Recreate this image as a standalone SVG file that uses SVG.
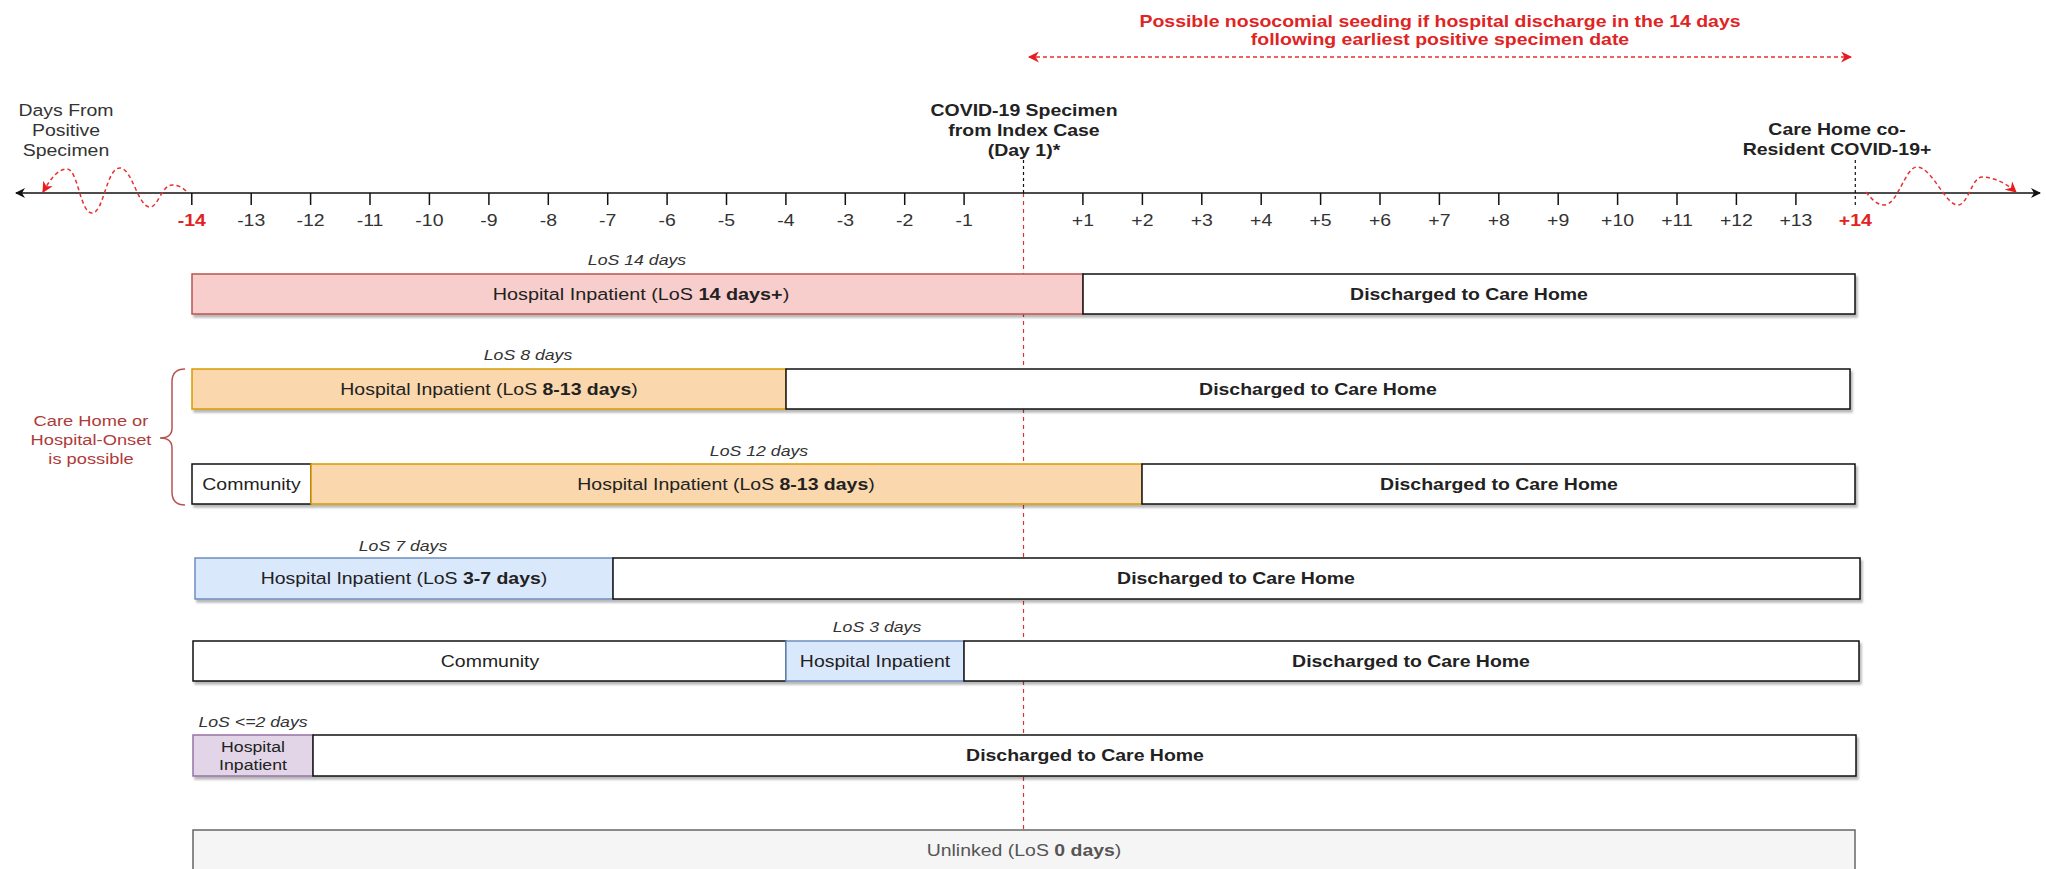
<svg xmlns="http://www.w3.org/2000/svg" width="2046" height="869" viewBox="0 0 2046 869">
<defs>
<style>
text{font-family:"Liberation Sans",Arial,sans-serif;font-size:16.5px;fill:#222;text-anchor:middle}
.b{font-weight:bold}
.lab{font-style:italic;font-size:15px;fill:#333}
.red{fill:#e02424;font-weight:bold}
.dred{fill:#b03a3a;font-size:15.5px}
.ax{fill:#333}
.pink{fill:#f8cecc;stroke:#b85450;stroke-width:1.5}
.org{fill:#fad7ac;stroke:#d79b00;stroke-width:1.5}
.blue{fill:#dae8fc;stroke:#6c8ebf;stroke-width:1.5}
.purp{fill:#e1d5e7;stroke:#9673a6;stroke-width:1.5}
.wht{fill:#fff;stroke:#111;stroke-width:1.5}
.gry{fill:#f5f5f5;stroke:#666;stroke-width:1.5}
.tick{stroke:#111;stroke-width:1.5}
.rdash{fill:none;stroke:#e83030;stroke-width:1.5;stroke-dasharray:4 3}
.kdash{fill:none;stroke:#111;stroke-width:1.2;stroke-dasharray:3 3}
</style>
<filter id="sh" x="-5%" y="-20%" width="110%" height="160%">
<feDropShadow dx="2" dy="3" stdDeviation="1" flood-color="#000" flood-opacity="0.28"/>
</filter>
<marker id="ak" viewBox="0 0 10 10" refX="9" refY="5" markerWidth="10" markerHeight="10" markerUnits="userSpaceOnUse" orient="auto-start-reverse">
<path d="M0,0 L10,5 L0,10 L3,5 Z" fill="#111"/>
</marker>
<marker id="ar" viewBox="0 0 10 10" refX="9" refY="5" markerWidth="11" markerHeight="11" markerUnits="userSpaceOnUse" orient="auto-start-reverse">
<path d="M0,0 L10,5 L0,10 L3,5 Z" fill="#e81c1c"/>
</marker>
</defs>
<rect width="2046" height="869" fill="#fff"/>

<g id="connectors">
<line x1="1023.5" y1="193" x2="1023.5" y2="830" stroke="#e03030" stroke-width="1.2" stroke-dasharray="4 4"/>
<line x1="16" y1="193" x2="2040" y2="193" stroke="#111" stroke-width="1.5" marker-start="url(#ak)" marker-end="url(#ak)"/>
<line x1="1023.5" y1="160" x2="1023.5" y2="193" class="kdash"/>
<line x1="1855.3" y1="160" x2="1855.3" y2="206" class="kdash"/>
<line x1="1029" y1="57" x2="1851" y2="57" class="rdash" marker-start="url(#ar)" marker-end="url(#ar)"/>
<path d="M186,191 C181,186 176,185 172,185 C162,185 158,207 150,207 C138,207 132,168 120,168 C106,168 104,213 92,213 C80,213 78,169 67,169 C57,169 50,180 43,192" class="rdash" marker-end="url(#ar)"/>
<path d="M1866,192 C1872,200 1878,205 1884,205 C1898,205 1905,167 1917,167 C1932,167 1945,205 1958,205 C1968,205 1972,177 1982,177 C1995,177 2008,185 2016,192" class="rdash" marker-end="url(#ar)"/>
<g id="ticks">
<line x1="191.8" y1="193" x2="191.8" y2="205" class="tick"/>
<line x1="251.2" y1="193" x2="251.2" y2="205" class="tick"/>
<line x1="310.6" y1="193" x2="310.6" y2="205" class="tick"/>
<line x1="370" y1="193" x2="370" y2="205" class="tick"/>
<line x1="429.4" y1="193" x2="429.4" y2="205" class="tick"/>
<line x1="488.9" y1="193" x2="488.9" y2="205" class="tick"/>
<line x1="548.3" y1="193" x2="548.3" y2="205" class="tick"/>
<line x1="607.7" y1="193" x2="607.7" y2="205" class="tick"/>
<line x1="667.1" y1="193" x2="667.1" y2="205" class="tick"/>
<line x1="726.5" y1="193" x2="726.5" y2="205" class="tick"/>
<line x1="785.9" y1="193" x2="785.9" y2="205" class="tick"/>
<line x1="845.3" y1="193" x2="845.3" y2="205" class="tick"/>
<line x1="904.7" y1="193" x2="904.7" y2="205" class="tick"/>
<line x1="964.1" y1="193" x2="964.1" y2="205" class="tick"/>
<line x1="1082.9" y1="193" x2="1082.9" y2="205" class="tick"/>
<line x1="1142.4" y1="193" x2="1142.4" y2="205" class="tick"/>
<line x1="1201.8" y1="193" x2="1201.8" y2="205" class="tick"/>
<line x1="1261.2" y1="193" x2="1261.2" y2="205" class="tick"/>
<line x1="1320.6" y1="193" x2="1320.6" y2="205" class="tick"/>
<line x1="1380" y1="193" x2="1380" y2="205" class="tick"/>
<line x1="1439.4" y1="193" x2="1439.4" y2="205" class="tick"/>
<line x1="1498.8" y1="193" x2="1498.8" y2="205" class="tick"/>
<line x1="1558.2" y1="193" x2="1558.2" y2="205" class="tick"/>
<line x1="1617.6" y1="193" x2="1617.6" y2="205" class="tick"/>
<line x1="1677" y1="193" x2="1677" y2="205" class="tick"/>
<line x1="1736.4" y1="193" x2="1736.4" y2="205" class="tick"/>
<line x1="1795.9" y1="193" x2="1795.9" y2="205" class="tick"/>
</g>
<path d="M185,369 Q172,369 172,382 L172,428 Q172,438 160,438 Q172,438 172,448 L172,492 Q172,505 185,505" fill="none" stroke="#b85450" stroke-width="1.5"/>
</g>

<g id="axis-labels">
<text transform="translate(191.8,226) scale(1.18,1)" class="red">-14</text>
<text transform="translate(251.2,226) scale(1.18,1)" class="ax">-13</text>
<text transform="translate(310.6,226) scale(1.18,1)" class="ax">-12</text>
<text transform="translate(370,226) scale(1.18,1)" class="ax">-11</text>
<text transform="translate(429.4,226) scale(1.18,1)" class="ax">-10</text>
<text transform="translate(488.9,226) scale(1.18,1)" class="ax">-9</text>
<text transform="translate(548.3,226) scale(1.18,1)" class="ax">-8</text>
<text transform="translate(607.7,226) scale(1.18,1)" class="ax">-7</text>
<text transform="translate(667.1,226) scale(1.18,1)" class="ax">-6</text>
<text transform="translate(726.5,226) scale(1.18,1)" class="ax">-5</text>
<text transform="translate(785.9,226) scale(1.18,1)" class="ax">-4</text>
<text transform="translate(845.3,226) scale(1.18,1)" class="ax">-3</text>
<text transform="translate(904.7,226) scale(1.18,1)" class="ax">-2</text>
<text transform="translate(964.1,226) scale(1.18,1)" class="ax">-1</text>
<text transform="translate(1082.9,226) scale(1.18,1)" class="ax">+1</text>
<text transform="translate(1142.4,226) scale(1.18,1)" class="ax">+2</text>
<text transform="translate(1201.8,226) scale(1.18,1)" class="ax">+3</text>
<text transform="translate(1261.2,226) scale(1.18,1)" class="ax">+4</text>
<text transform="translate(1320.6,226) scale(1.18,1)" class="ax">+5</text>
<text transform="translate(1380,226) scale(1.18,1)" class="ax">+6</text>
<text transform="translate(1439.4,226) scale(1.18,1)" class="ax">+7</text>
<text transform="translate(1498.8,226) scale(1.18,1)" class="ax">+8</text>
<text transform="translate(1558.2,226) scale(1.18,1)" class="ax">+9</text>
<text transform="translate(1617.6,226) scale(1.18,1)" class="ax">+10</text>
<text transform="translate(1677,226) scale(1.18,1)" class="ax">+11</text>
<text transform="translate(1736.4,226) scale(1.18,1)" class="ax">+12</text>
<text transform="translate(1795.9,226) scale(1.18,1)" class="ax">+13</text>
<text transform="translate(1855.3,226) scale(1.18,1)" class="red">+14</text>
</g>

<g id="title-seeding">
<text transform="translate(1440,27) scale(1.18,1)" class="red">Possible nosocomial seeding if hospital discharge in the 14 days</text>
<text transform="translate(1440,45) scale(1.18,1)" class="red">following earliest positive specimen date</text>
</g>
<g id="label-days">
<text transform="translate(66,116) scale(1.18,1)" class="ax">Days From</text>
<text transform="translate(66,136) scale(1.18,1)" class="ax">Positive</text>
<text transform="translate(66,156) scale(1.18,1)" class="ax">Specimen</text>
</g>
<g id="label-index">
<text transform="translate(1024,116) scale(1.18,1)" class="b">COVID-19 Specimen</text>
<text transform="translate(1024,136) scale(1.18,1)" class="b">from Index Case</text>
<text transform="translate(1024,156) scale(1.18,1)" class="b">(Day 1)*</text>
</g>
<g id="label-coresident">
<text transform="translate(1837,135) scale(1.18,1)" class="b">Care Home co-</text>
<text transform="translate(1837,155) scale(1.18,1)" class="b">Resident COVID-19+</text>
</g>
<g id="label-onset">
<text transform="translate(91,426) scale(1.18,1)" class="dred">Care Home or</text>
<text transform="translate(91,445) scale(1.18,1)" class="dred">Hospital-Onset</text>
<text transform="translate(91,464) scale(1.18,1)" class="dred">is possible</text>
</g>

<g id="row1">
<g filter="url(#sh)">
<rect x="192" y="274" width="891" height="40" class="pink"/>
<rect x="1083" y="274" width="772" height="40" class="wht"/>
</g>
<text transform="translate(637,265) scale(1.18,1)" class="lab">LoS 14 days</text>
<text transform="translate(641,300) scale(1.2,1)">Hospital Inpatient (LoS <tspan class="b">14 days+</tspan>)</text>
<text transform="translate(1469,300) scale(1.18,1)" class="b">Discharged to Care Home</text>
</g>

<g id="row2">
<g filter="url(#sh)">
<rect x="192" y="369" width="594" height="40" class="org"/>
<rect x="786" y="369" width="1064" height="40" class="wht"/>
</g>
<text transform="translate(528,360) scale(1.18,1)" class="lab">LoS 8 days</text>
<text transform="translate(489,395) scale(1.18,1)">Hospital Inpatient (LoS <tspan class="b">8-13 days</tspan>)</text>
<text transform="translate(1318,395) scale(1.18,1)" class="b">Discharged to Care Home</text>
</g>

<g id="row3">
<g filter="url(#sh)">
<rect x="192" y="464" width="119" height="40" class="wht"/>
<rect x="311" y="464" width="831" height="40" class="org"/>
<rect x="1142" y="464" width="713" height="40" class="wht"/>
</g>
<text transform="translate(759,456) scale(1.18,1)" class="lab">LoS 12 days</text>
<text transform="translate(251.5,490) scale(1.18,1)">Community</text>
<text transform="translate(726,490) scale(1.18,1)">Hospital Inpatient (LoS <tspan class="b">8-13 days</tspan>)</text>
<text transform="translate(1499,490) scale(1.18,1)" class="b">Discharged to Care Home</text>
</g>

<g id="row4">
<g filter="url(#sh)">
<rect x="195" y="558" width="418" height="41" class="blue"/>
<rect x="613" y="558" width="1247" height="41" class="wht"/>
</g>
<text transform="translate(403,551) scale(1.18,1)" class="lab">LoS 7 days</text>
<text transform="translate(404,584) scale(1.18,1)">Hospital Inpatient (LoS <tspan class="b">3-7 days</tspan>)</text>
<text transform="translate(1236,584) scale(1.18,1)" class="b">Discharged to Care Home</text>
</g>

<g id="row5">
<g filter="url(#sh)">
<rect x="193" y="641" width="593" height="40" class="wht"/>
<rect x="786" y="641" width="178" height="40" class="blue"/>
<rect x="964" y="641" width="895" height="40" class="wht"/>
</g>
<text transform="translate(877,632) scale(1.18,1)" class="lab">LoS 3 days</text>
<text transform="translate(490,667) scale(1.18,1)">Community</text>
<text transform="translate(875,667) scale(1.18,1)">Hospital Inpatient</text>
<text transform="translate(1411,667) scale(1.18,1)" class="b">Discharged to Care Home</text>
</g>

<g id="row6">
<g filter="url(#sh)">
<rect x="193" y="735" width="120" height="41" class="purp"/>
<rect x="313" y="735" width="1543" height="41" class="wht"/>
</g>
<text transform="translate(253,727) scale(1.18,1)" class="lab">LoS &lt;=2 days</text>
<text transform="translate(253,752) scale(1.18,1)" style="font-size:15px">Hospital</text>
<text transform="translate(253,770) scale(1.18,1)" style="font-size:15px">Inpatient</text>
<text transform="translate(1085,761) scale(1.18,1)" class="b">Discharged to Care Home</text>
</g>

<g id="row7">
<rect x="193" y="830" width="1662" height="42" class="gry"/>
<text transform="translate(1024,856) scale(1.18,1)" style="fill:#555">Unlinked (LoS <tspan class="b">0 days</tspan>)</text>
</g>
</svg>
